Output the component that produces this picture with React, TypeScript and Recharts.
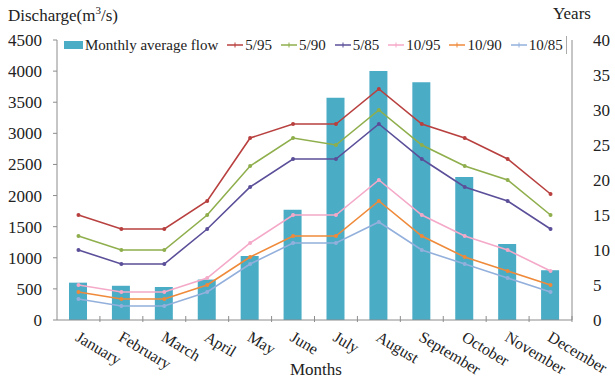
import { ComposedChart, Bar, Line, XAxis, YAxis } from 'recharts';

const months = ['January', 'February', 'March', 'April', 'May', 'June', 'July', 'August', 'September', 'October', 'November', 'December'];
const monthlyFlow = [600, 550, 530, 650, 1030, 1770, 3570, 4000, 3820, 2300, 1220, 800];
const y595 = [15, 13, 13, 17, 26, 28, 28, 33, 28, 26, 23, 18];
const y590 = [12, 10, 10, 15, 22, 26, 25, 30, 25, 22, 20, 15];
const y585 = [10, 8, 8, 13, 19, 23, 23, 28, 23, 19, 17, 13];
const y1095 = [5, 4, 4, 6, 11, 15, 15, 20, 15, 12, 10, 7];
const y1090 = [4, 3, 3, 5, 9, 12, 12, 17, 12, 9, 7, 5];
const y1085 = [3, 2, 2, 4, 8, 11, 11, 14, 10, 8, 6, 4];
const leftTicks = [0, 500, 1000, 1500, 2000, 2500, 3000, 3500, 4000, 4500];
const rightTicks = [0, 5, 10, 15, 20, 25, 30, 35, 40];

const lines = [
  { key: 'y595', name: '5/95', color: '#b8403f' },
  { key: 'y590', name: '5/90', color: '#8fae4c' },
  { key: 'y585', name: '5/85', color: '#5b4f99' },
  { key: 'y1095', name: '10/95', color: '#f4a9c8' },
  { key: 'y1090', name: '10/90', color: '#ef8a3a' },
  { key: 'y1085', name: '10/85', color: '#93b0dc' },
];

const data = months.map((m, i) => ({
  month: m,
  flow: monthlyFlow[i],
  y595: y595[i],
  y590: y590[i],
  y585: y585[i],
  y1095: y1095[i],
  y1090: y1090[i],
  y1085: y1085[i],
}));

const FONT = '"Liberation Serif", "Times New Roman", serif';
const AXIS = '#8c8c8c';
const BAND = 515 / months.length;

const MonthTick = (props: any) => {
  const { x, y, payload } = props;
  return (
    <g>
      <line x1={x + BAND / 2} y1={y - 6} x2={x + BAND / 2} y2={y - 12} stroke={AXIS} />
      <text
        x={x - 4}
        y={y + 12}
        transform={`rotate(31 ${x - 4} ${y + 12})`}
        textAnchor="start"
        fontSize={16}
        fontFamily={FONT}
        fill="#222"
      >
        {payload.value}
      </text>
    </g>
  );
};

const ChartLegend = () => (
  <div
    style={{
      position: 'absolute',
      left: 64,
      top: 36,
      display: 'flex',
      alignItems: 'center',
      fontFamily: FONT,
      fontSize: 15,
      color: '#222',
      whiteSpace: 'nowrap',
      borderRight: '1px solid #aaa',
      paddingRight: 3,
      height: 18,
    }}
  >
    <span style={{ display: 'inline-block', width: 19, height: 8, background: '#4bacc6', marginRight: 2 }} />
    <span style={{ marginRight: 9 }}>Monthly average flow</span>
    {lines.map((l, i) => (
      <span key={l.key} style={{ display: 'inline-flex', alignItems: 'center', marginRight: i === lines.length - 1 ? 0 : 9 }}>
        <svg width={16} height={8} style={{ marginRight: 2 }}>
          <line x1={0} y1={4} x2={16} y2={4} stroke={l.color} strokeWidth={1.5} />
          <line x1={8} y1={1.5} x2={8} y2={6.5} stroke={l.color} strokeWidth={1} />
        </svg>
        {l.name}
      </span>
    ))}
  </div>
);

export default function App() {
  return (
    <div style={{ position: 'absolute', left: 0, top: 0, width: 615, height: 384, background: '#fff' }}>
      <ComposedChart width={615} height={384} data={data} margin={{ top: 40, right: 0, left: 5, bottom: 0 }}>
        <XAxis
          dataKey="month"
          interval={0}
          height={64}
          axisLine={{ stroke: AXIS }}
          tickLine={false}
          tick={<MonthTick />}
        />
        <YAxis
          yAxisId="left"
          domain={[0, 4500]}
          ticks={leftTicks}
          width={52}
          axisLine={{ stroke: AXIS }}
          tickLine={{ stroke: AXIS }}
          tickSize={4}
          tickMargin={11}
          tick={{ fontSize: 17, fontFamily: FONT, fill: '#222' }}
        />
        <YAxis
          yAxisId="right"
          orientation="right"
          domain={[0, 40]}
          ticks={rightTicks}
          width={43}
          axisLine={{ stroke: AXIS }}
          tickLine={false}
          tickMargin={15}
          tick={{ fontSize: 17, fontFamily: FONT, fill: '#222' }}
        />
        <Bar yAxisId="left" dataKey="flow" fill="#4bacc6" barSize={18} isAnimationActive={false} />
        {lines.map((l) => (
          <Line
            key={l.key}
            yAxisId="right"
            type="linear"
            dataKey={l.key}
            stroke={l.color}
            strokeWidth={1.6}
            dot={{ r: 1.2, fill: l.color, stroke: l.color }}
            isAnimationActive={false}
          />
        ))}
      </ComposedChart>
      <div style={{ position: 'absolute', left: 8, top: 4, fontFamily: FONT, fontSize: 17, color: '#222' }}>
        Discharge(m<sup style={{ fontSize: 11 }}>3</sup>/s)
      </div>
      <div style={{ position: 'absolute', left: 553, top: 4, fontFamily: FONT, fontSize: 17, color: '#222' }}>Years</div>
      <div style={{ position: 'absolute', left: 290, top: 360, fontFamily: FONT, fontSize: 17, color: '#222' }}>Months</div>
      <ChartLegend />
    </div>
  );
}
